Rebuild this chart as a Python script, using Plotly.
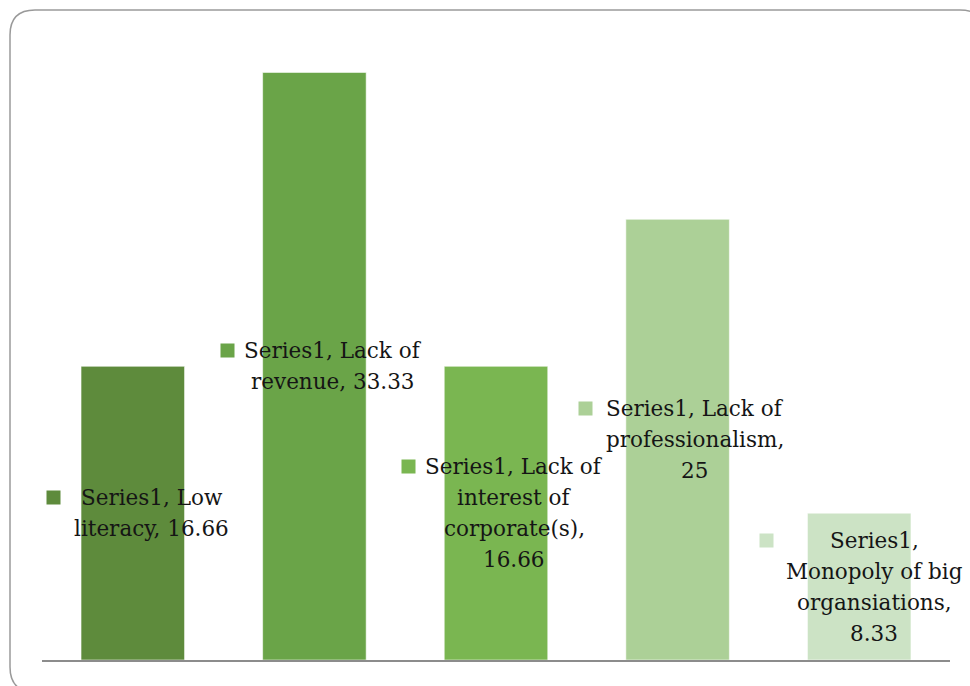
import plotly.graph_objects as go

# Data
categories = [
    "Low literacy",
    "Lack of revenue",
    "Lack of interest of corporate(s)",
    "Lack of professionalism",
    "Monopoly of big organsiations",
]
values = [16.66, 33.33, 16.66, 25, 8.33]
series_name = "Series1"

# Data-label text, broken into lines as displayed
label_lines = [
    ["Series1, Low", "literacy, 16.66"],
    ["Series1, Lack of", "revenue, 33.33"],
    ["Series1, Lack of", "interest of", "corporate(s),", "16.66"],
    ["Series1, Lack of", "professionalism,", "25"],
    ["Series1,", "Monopoly of big", "organsiations,", "8.33"],
]

# Styling
bar_colors = ["#5E8B3C", "#6AA448", "#7AB651", "#ACD097", "#CCE3C5"]
FONT = "DejaVu Serif"
FONT_SIZE = 21.5
LINE_H = 31            # px between label lines
text_dx = [19, 19, 18, 17, 15]        # label block centre offset from bar centre (px)
key_dx = [-79, -87, -88, -92, -93]    # legend-key offset from bar centre (px)
KEY_SIZE = 13

W, H = 970, 686
L_M, R_M, T_M, B_M = 42, 20, 43, 26

x_idx = list(range(len(categories)))

fig = go.Figure()
fig.add_trace(go.Bar(
    x=x_idx,
    y=values,
    width=0.57,
    marker=dict(color=bar_colors, line=dict(color="rgba(255,255,255,0.55)", width=1)),
    name=series_name,
    hovertext=categories,
    showlegend=False,
))

annotations = []
for i, (v, lines) in enumerate(zip(values, label_lines)):
    n = len(lines)
    for k, line in enumerate(lines):
        annotations.append(dict(
            x=i, y=v / 2, xref="x", yref="y",
            text=line, showarrow=False,
            xanchor="center", yanchor="middle",
            xshift=text_dx[i], yshift=((n - 1) / 2 - k) * LINE_H,
            font=dict(family=FONT, size=FONT_SIZE, color="#151515"),
        ))
    # legend key square next to the first line
    annotations.append(dict(
        x=i, y=v / 2, xref="x", yref="y",
        text=" ", showarrow=False,
        xanchor="center", yanchor="middle",
        width=KEY_SIZE, height=KEY_SIZE, borderpad=0,
        bgcolor=bar_colors[i],
        xshift=key_dx[i], yshift=(n - 1) / 2 * LINE_H,
        font=dict(size=4),
    ))

# Rounded outer frame in paper coordinates
pw = W - L_M - R_M
ph = H - T_M - B_M


def px(xp):
    return (xp - L_M) / pw


def py(yp):
    return (H - B_M - yp) / ph


fx0, fy0, fx1, fy1, r = 10, 10, 985, 692, 25
frame_path = (
    f"M {px(fx0 + r)} {py(fy0)} L {px(fx1 - r)} {py(fy0)} "
    f"Q {px(fx1)} {py(fy0)} {px(fx1)} {py(fy0 + r)} "
    f"L {px(fx1)} {py(fy1 - r)} "
    f"Q {px(fx1)} {py(fy1)} {px(fx1 - r)} {py(fy1)} "
    f"L {px(fx0 + r)} {py(fy1)} "
    f"Q {px(fx0)} {py(fy1)} {px(fx0)} {py(fy1 - r)} "
    f"L {px(fx0)} {py(fy0 + r)} "
    f"Q {px(fx0)} {py(fy0)} {px(fx0 + r)} {py(fy0)} Z"
)

fig.update_layout(
    width=W, height=H,
    margin=dict(l=L_M, r=R_M, t=T_M, b=B_M),
    paper_bgcolor="white",
    plot_bgcolor="white",
    annotations=annotations,
    shapes=[dict(type="path", xref="paper", yref="paper", path=frame_path,
                 line=dict(color="#9a9a9a", width=1.5), layer="below")],
    xaxis=dict(range=[-0.5, 4.5], showgrid=False, zeroline=False,
               showticklabels=False, ticks="", showline=True,
               linecolor="#8c8c8c", linewidth=2),
    yaxis=dict(range=[0, 35], showgrid=False, zeroline=False,
               showticklabels=False, ticks="", showline=False),
    bargap=0.43,
)

fig.write_html("out.html")
